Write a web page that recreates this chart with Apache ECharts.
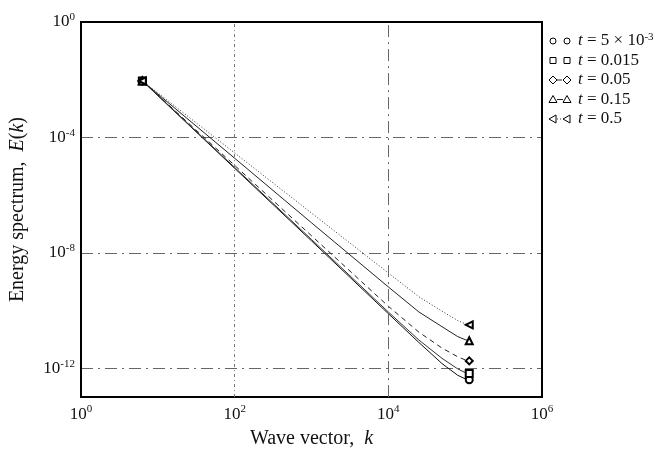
<!DOCTYPE html>
<html>
<head>
<meta charset="utf-8">
<script src="https://cdn.jsdelivr.net/npm/echarts@6/dist/echarts.min.js"></script>
<style>
  html, body { margin: 0; padding: 0; background: #fff; }
  #chart { width: 657px; height: 454px; }
</style>
</head>
<body>
<div id="chart"></div>
<script>
// Wave vector samples shared by every spectrum
const wavevector = [6.28, 10, 100, 1000, 10000, 25000, 50000, 80000, 100000, 113000];

// Energy spectrum E(k) at each time t
const energy_t0005 = [9.1e-3, 2.8e-3, 8.5e-6, 2.6e-8, 7.8e-11, 7.8e-12, 1.45e-12, 5.7e-13, 4.3e-13, 4.0e-13];
const energy_t0015 = [9.1e-3, 2.9e-3, 9.1e-6, 2.9e-8, 8.9e-11, 9.5e-12, 2.2e-12, 9.5e-13, 7.1e-13, 6.6e-13];
const energy_t005  = [9.1e-3, 2.95e-3, 1.07e-5, 3.9e-8, 1.41e-10, 1.78e-11, 5.0e-12, 2.5e-12, 1.95e-12, 1.8e-12];
const energy_t015  = [9.1e-3, 3.2e-3, 1.9e-5, 1.1e-7, 6.6e-10, 8.9e-11, 2.75e-11, 1.25e-11, 9.8e-12, 9.0e-12];
const energy_t05   = [9.1e-3, 3.5e-3, 2.9e-5, 2.4e-7, 2.0e-9, 3.0e-10, 9.5e-11, 4.5e-11, 3.5e-11, 3.2e-11];

// Legend captions (rich text)
const legendCaptions = [
  '{i|t} = 5 × 10{s|-3}',
  '{i|t} = 0.015',
  '{i|t} = 0.05',
  '{i|t} = 0.15',
  '{i|t} = 0.5'
];

// Axis ticks
const xTicks = [1, 100, 10000, 1000000];
const yTicks = [1e-12, 1e-8, 1e-4, 1];
// Vertical reference lines
const xGuides = [100, 10000];

const SERIF = '"Liberation Serif", "DejaVu Serif", serif';
const INK = '#111';

const styles = [
  { data: energy_t0005, symbol: 'emptyCircle',   rotate: 0,  type: 'solid', color: '#111' },
  { data: energy_t0015, symbol: 'emptyRect',     rotate: 0,  type: 'solid', color: '#333' },
  { data: energy_t005,  symbol: 'emptyDiamond',  rotate: 0,  type: [5, 4],  color: '#222' },
  { data: energy_t015,  symbol: 'emptyTriangle', rotate: 0,  type: 'solid', color: '#222' },
  { data: energy_t05,   symbol: 'emptyTriangle', rotate: 90, type: [1, 2],  color: '#333' }
];

function powLabel(v) {
  const e = Math.round(Math.log10(v));
  return '{b|10}{s|' + e + '}';
}
const tickRich = {
  b: { fontFamily: SERIF, fontSize: 17, color: INK, lineHeight: 20 },
  s: { fontFamily: SERIF, fontSize: 11, color: INK, verticalAlign: 'top', lineHeight: 20, padding: [0, 0, 9, 0] }
};

const series = styles.map(function (st, idx) {
  const last = st.data.length - 1;
  const s = {
    type: 'line',
    data: wavevector.map(function (k, i) { return [k, st.data[i]]; }),
    symbol: function (val, params) {
      return (params.dataIndex === 0 || params.dataIndex === last) ? st.symbol : 'none';
    },
    showAllSymbol: true,
    symbolSize: 7,
    symbolRotate: st.rotate,
    lineStyle: { color: st.color, width: 1, type: st.type },
    itemStyle: { color: '#000', borderColor: '#000', borderWidth: 1 },
    z: 3,
    silent: true,
    animation: false
  };
  if (idx === 0) {
    s.markLine = {
      silent: true,
      symbol: 'none',
      label: { show: false },
      animation: false,
      data: [
        { xAxis: xGuides[0], lineStyle: { color: '#777', width: 1, type: [3, 3, 1, 3] } },
        { xAxis: xGuides[1], lineStyle: { color: '#666', width: 1, type: [12, 5, 2, 5] } }
      ]
    };
  }
  return s;
});

// Legend drawn as graphic elements: marker, line, marker, caption
const legendX1 = 553, legendX2 = 567, legendTextX = 578, legendY0 = 41, legendDy = 19.5;
function markerShape(kind, cx, cy) {
  const st = { fill: '#fff', stroke: '#000', lineWidth: 1 };
  if (kind === 0) return { type: 'circle', shape: { cx: cx, cy: cy, r: 3 }, style: st };
  if (kind === 1) return { type: 'rect', shape: { x: cx - 3, y: cy - 3, width: 6, height: 6 }, style: st };
  if (kind === 2) return { type: 'polygon', shape: { points: [[cx, cy - 4], [cx + 4, cy], [cx, cy + 4], [cx - 4, cy]] }, style: st };
  if (kind === 3) return { type: 'polygon', shape: { points: [[cx, cy - 4], [cx + 4, cy + 3], [cx - 4, cy + 3]] }, style: st };
  return { type: 'polygon', shape: { points: [[cx - 4, cy], [cx + 3, cy - 4], [cx + 3, cy + 4]] }, style: st };
}
const legendChildren = [];
legendCaptions.forEach(function (cap, i) {
  const cy = legendY0 + i * legendDy;
  const st = styles[i];
  if (i >= 2) {
    legendChildren.push({
      type: 'line',
      shape: { x1: legendX1 + 4, y1: cy, x2: legendX2 - 4, y2: cy },
      style: { stroke: st.color, lineWidth: 1, lineDash: Array.isArray(st.type) ? st.type : null }
    });
  }
  legendChildren.push(markerShape(i, legendX1, cy));
  legendChildren.push(markerShape(i, legendX2, cy));
  legendChildren.push({
    type: 'text',
    x: legendTextX,
    y: cy,
    style: {
      text: cap,
      fill: INK,
      verticalAlign: 'middle',
      fontFamily: SERIF,
      fontSize: 17,
      rich: {
        i: { fontFamily: SERIF, fontSize: 17, fontStyle: 'italic', fill: INK },
        s: { fontFamily: SERIF, fontSize: 11, fill: INK, verticalAlign: 'top', padding: [0, 0, 8, 0] }
      }
    }
  });
});

const chart = echarts.init(document.getElementById('chart'), null, { renderer: 'canvas' });
chart.setOption({
  backgroundColor: '#fff',
  animation: false,
  grid: {
    left: 81, right: 115, top: 22, bottom: 46,
    show: true, borderColor: '#000', borderWidth: 2, backgroundColor: 'transparent', z: 4
  },
  xAxis: {
    type: 'log',
    logBase: 10,
    min: 1,
    max: 1000000,
    name: 'Wave vector,  {i|k}',
    nameLocation: 'middle',
    nameGap: 26,
    nameTextStyle: {
      fontFamily: SERIF, fontSize: 20, color: INK,
      rich: { i: { fontFamily: SERIF, fontSize: 20, fontStyle: 'italic', color: INK } }
    },
    axisLine: { show: false },
    axisTick: { show: false, customValues: xTicks },
    splitLine: { show: false },
    axisLabel: { customValues: xTicks, formatter: powLabel, rich: tickRich, margin: 7, color: INK }
  },
  yAxis: {
    type: 'log',
    logBase: 10,
    min: 1e-13,
    max: 1,
    name: 'Energy spectrum,  {i|E}({i|k})',
    nameLocation: 'middle',
    nameGap: 53,
    nameTextStyle: {
      fontFamily: SERIF, fontSize: 20, color: INK,
      rich: { i: { fontFamily: SERIF, fontSize: 20, fontStyle: 'italic', color: INK } }
    },
    axisLine: { show: false },
    axisTick: { show: false, customValues: yTicks },
    splitLine: { show: true, lineStyle: { color: '#666', width: 1, type: [12, 5, 2, 5] } },
    axisLabel: { customValues: yTicks, formatter: powLabel, rich: tickRich, margin: 6, color: INK }
  },
  graphic: [{ type: 'group', children: legendChildren }],
  series: series
});
</script>
</body>
</html>
